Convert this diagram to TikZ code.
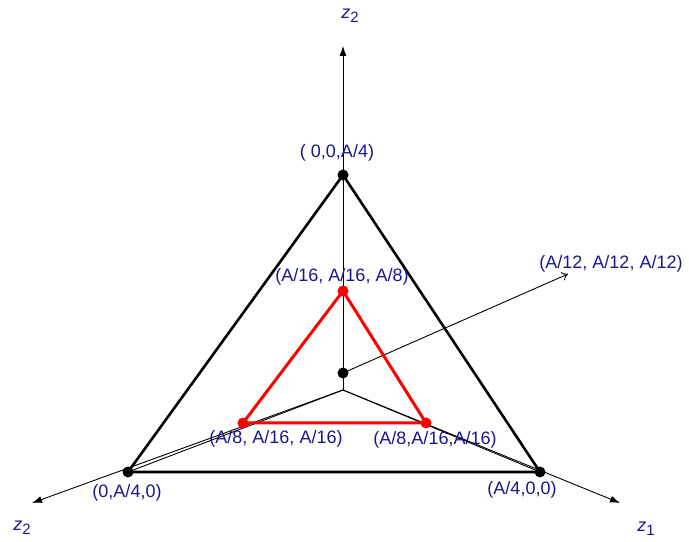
\documentclass[tikz,border=0pt]{standalone}
\usepackage{fontspec}
\setmainfont{Liberation Sans}
\usetikzlibrary{arrows.meta}
\definecolor{lblblue}{RGB}{24,24,140}
\newcommand{\axlbl}[1]{\textit{z}{\fontsize{15bp}{15bp}\selectfont\raisebox{-4bp}{#1}}}
\tikzset{
  lbl/.style={text=lblblue,font=\fontsize{18bp}{20bp}\selectfont,inner sep=0pt},
  axisline/.style={line width=0.9bp},
  dotb/.style={circle,fill=black,inner sep=0pt,minimum size=11bp},
  dotr/.style={circle,fill=red,inner sep=0pt,minimum size=11bp},
}

\begin{document}
\begin{tikzpicture}[x=1bp,y=1bp]
\useasboundingbox (0,0) rectangle (689,542);
% axes
\coordinate (J) at (343,152);
\coordinate (O) at (343,169);
\coordinate (ztop) at (343,496);
\coordinate (zleft) at (32,39);
\coordinate (zright) at (620,39);
\coordinate (diag) at (568,268);
\draw[axisline,-{Latex[length=10bp,width=7bp]}] (J)--(ztop);
\draw[axisline,-{Latex[length=10bp,width=7bp]}] (J)--(zleft);
\draw[axisline,-{Latex[length=10bp,width=7bp]}] (J)--(zright);
\draw[axisline,-{To[length=6bp,width=9bp]}] (O)--(diag);
% outer triangle
\coordinate (T) at (343,367);
\coordinate (L) at (128,70);
\coordinate (R) at (540,70);
\draw[axisline] (J)--(L);
\draw[axisline] (J)--(R);
\draw[line width=2.6bp,line join=round] (T)--(L)--(R)--cycle;
% inner triangle
\coordinate (rT) at (343,251);
\coordinate (rL) at (243,119);
\coordinate (rR) at (426,119);
\draw[red,line width=3bp,line join=round] (rT)--(rL)--(rR)--cycle;
\foreach \p in {T,L,R,O}{\node[dotb] (dot-\p) at (\p) {};}
\foreach \p in {rT,rL,rR}{\node[dotr] (dot-\p) at (\p) {};}
% labels
\node[lbl] (zt) at (350,526) {\axlbl{2}};
\node[lbl] (zl) at (22,14) {\axlbl{2}};
\node[lbl] (zr) at (646,13) {\axlbl{1}};
\node[lbl] (lT) at (337,389) {( 0,0,A/4)};
\node[lbl] (lL) at (127,49) {(0,A/4,0)};
\node[lbl] (lR) at (522,52) {(A/4,0,0)};
\node[lbl] (lrT) at (342,265) {(A/16, A/16, A/8)};
\node[lbl] (lrL) at (276,103) {(A/8, A/16, A/16)};
\node[lbl] (lrR) at (435,102) {(A/8,A/16,A/16)};
\node[lbl] (ldiag) at (611,278) {(A/12, A/12, A/12)};
\end{tikzpicture}
\end{document}
